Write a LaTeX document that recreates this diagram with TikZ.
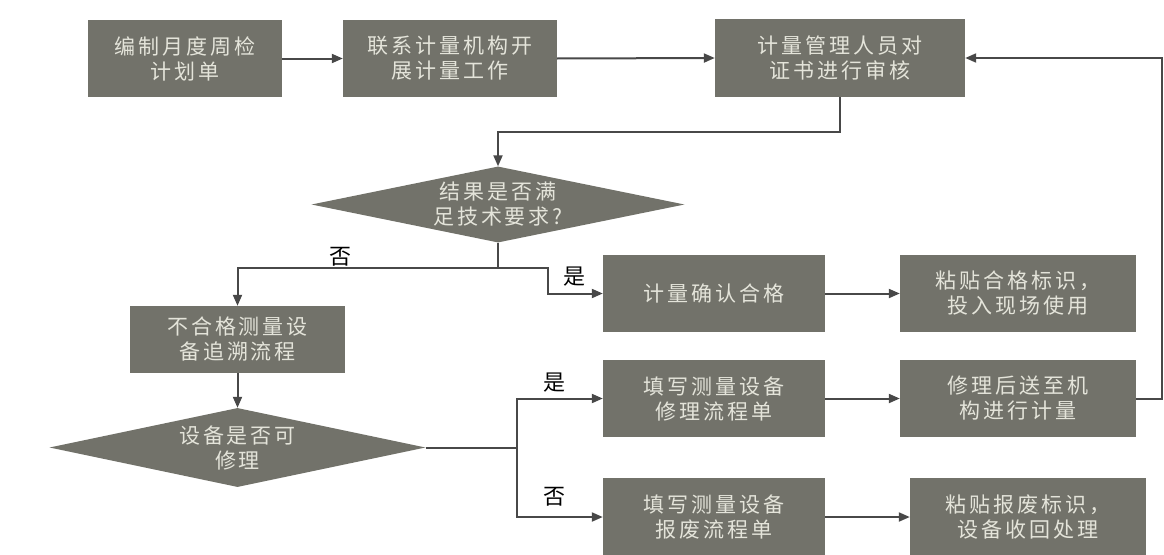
\documentclass[tikz,border=0pt]{standalone}
\usepackage{fontspec}
\setmainfont{Noto Sans CJK SC}
\newfontfamily\boxfont[LetterSpace=14]{Noto Sans CJK SC}
\usetikzlibrary{arrows.meta,shapes.geometric}
\definecolor{boxfill}{RGB}{114,114,106}
\definecolor{boxtext}{RGB}{228,228,218}
\definecolor{linec}{RGB}{72,72,72}
\begin{document}
\begin{tikzpicture}[x=1pt,y=-1pt,
  procbox/.style={rectangle,fill=boxfill,text=boxtext,align=center,inner sep=0pt,
    font=\boxfont\fontsize{21}{25}\selectfont},
  decbox/.style={diamond,fill=boxfill,text=boxtext,align=center,inner sep=0pt,
    font=\boxfont\fontsize{21}{25}\selectfont},
  conn/.style={draw=linec,line width=2pt},
  arr/.style={conn,-{Triangle[length=11pt,width=9pt]}},
  lbl/.style={text=black,font=\fontsize{22}{24}\selectfont,inner sep=0pt}]
\useasboundingbox (0,0) rectangle (1164,554);
\fill[white] (0,0) rectangle (1164,554);
% row 1
\node[procbox,minimum width=194pt,minimum height=77pt] (b1) at (185,58.5) {编制月度周检\\计划单};
\node[procbox,minimum width=214pt,minimum height=77pt] (b2) at (450,58.5) {联系计量机构开\\展计量工作};
\node[procbox,minimum width=250pt,minimum height=78pt] (b3) at (840,58) {计量管理人员对\\证书进行审核};
% decision 1
\node[decbox,aspect=4.9,minimum width=373pt,minimum height=76pt] (d1) at (498,204.5) {结果是否满\\足技术要求?};
% row ok
\node[procbox,minimum width=222pt,minimum height=77pt] (ok) at (714,293.5) {计量确认合格};
\node[procbox,minimum width=236pt,minimum height=77pt] (okr) at (1018,293.5) {粘贴合格标识，\\投入现场使用};
% nonconforming
\node[procbox,minimum width=215pt,minimum height=67pt] (nc) at (237.5,339.5) {不合格测量设\\备追溯流程};
\node[decbox,aspect=4.75,minimum width=376pt,minimum height=79pt] (d2) at (237.5,447.5) {设备是否可\\修理};
% repair row
\node[procbox,minimum width=222pt,minimum height=77pt] (rp) at (714,398.5) {填写测量设备\\修理流程单};
\node[procbox,minimum width=236pt,minimum height=77pt] (rs) at (1018,398.5) {修理后送至机\\构进行计量};
% scrap row
\node[procbox,minimum width=222pt,minimum height=78pt] (sc) at (714,517) {填写测量设备\\报废流程单};
\node[procbox,minimum width=236pt,minimum height=78pt] (sr) at (1028,517) {粘贴报废标识，\\设备收回处理};
% connectors
\draw[arr] (b1.east) -- (b2.west);
\draw[arr] (b2.east) -- (b3.west);
\draw[arr] (b3.south) -- ++(0,35) -| (d1.north);
\coordinate (j1) at (498,268);
\draw[conn] (d1.south) -- (j1);
\draw[arr] (j1) -| (nc.north);
\draw[arr] (j1) -- (548,268) |- (ok.west);
\draw[arr] (ok.east) -- (okr.west);
\draw[arr] (nc.south) -- (d2.north);
\coordinate (j2) at (517,447.5);
\draw[conn] (d2.east) -- (j2);
\draw[arr] (j2) |- (rp.west);
\draw[arr] (j2) |- (sc.west);
\draw[arr] (rp.east) -- (rs.west);
\draw[arr] (sc.east) -- (sr.west);
\coordinate (rr) at (1162,398.5);
\draw[arr] (rs.east) -- (rr) |- (b3.east);
% labels
\node[lbl] (lno1) at (340,257) {否};
\node[lbl] (lyes1) at (574,277) {是};
\node[lbl] (lyes2) at (554,383) {是};
\node[lbl] (lno2) at (554,497) {否};
\end{tikzpicture}
\end{document}
